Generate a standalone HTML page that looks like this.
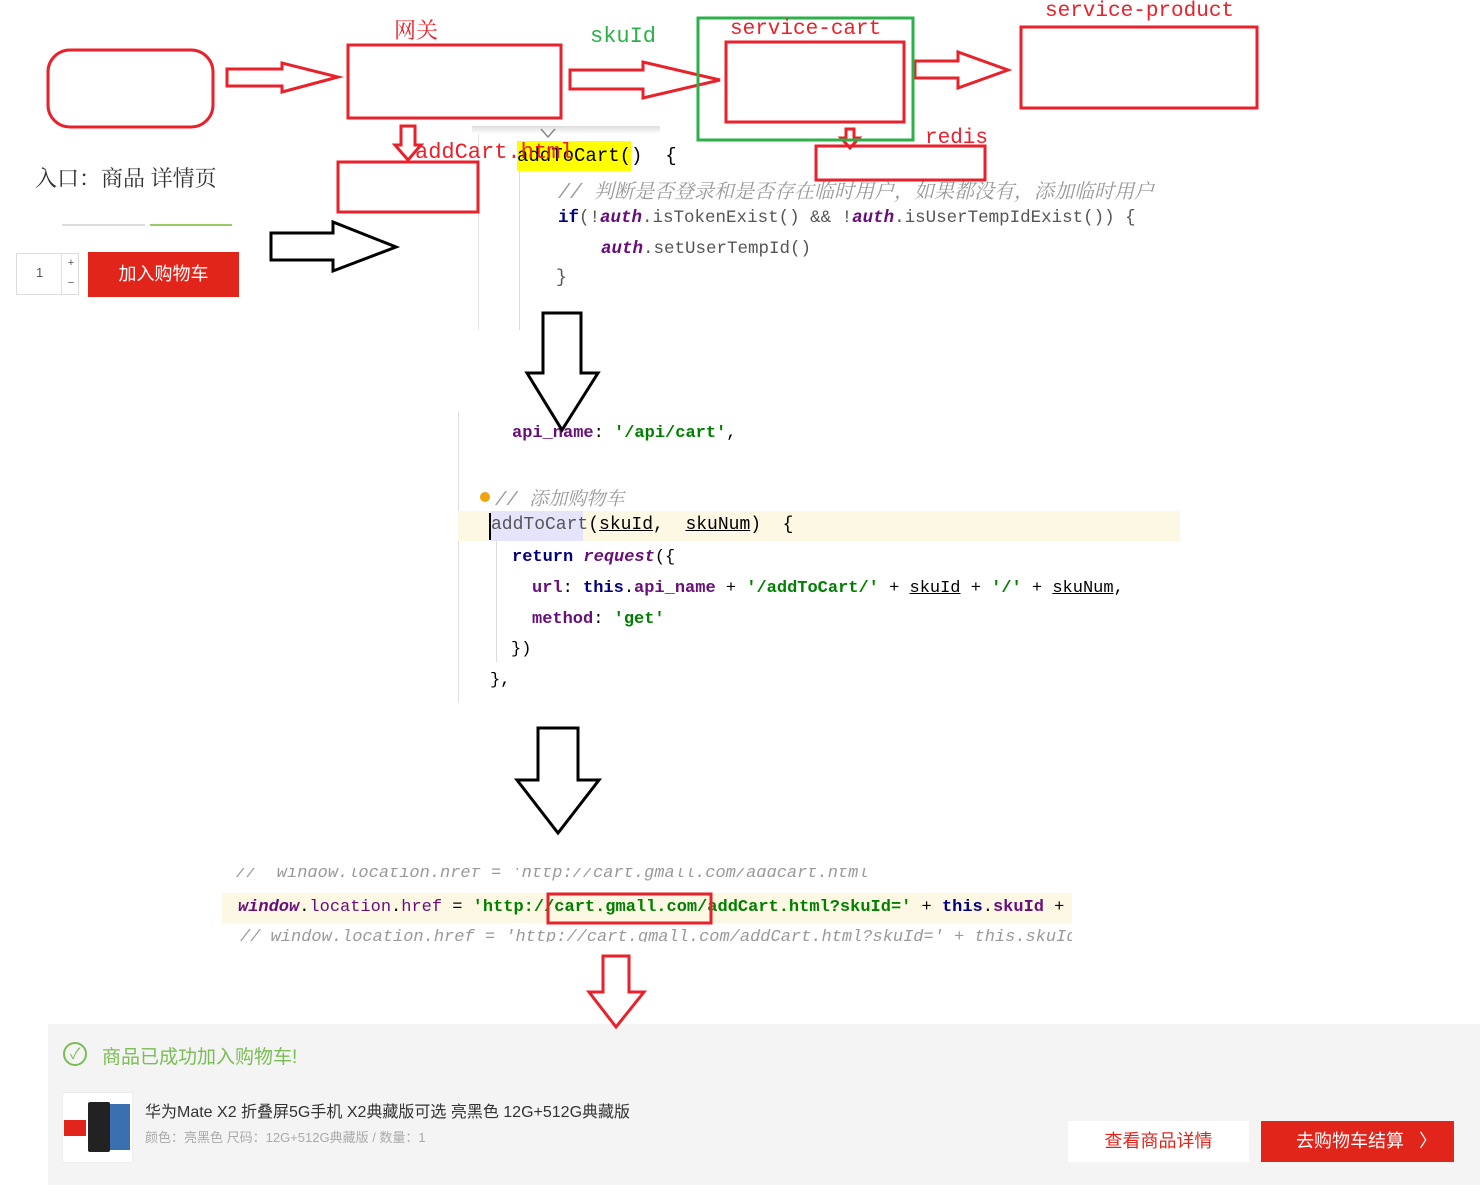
<!DOCTYPE html>
<html><head><meta charset="utf-8"><style>
body{margin:0;width:1480px;height:1193px;background:#fff;position:relative;overflow:hidden;font-family:"Liberation Sans","Noto Sans CJK SC",sans-serif}
.a{position:absolute;white-space:nowrap}
.m{font-family:"Liberation Mono","Noto Serif CJK SC",monospace;font-size:18px}
.c{font-family:"Liberation Mono","Noto Serif CJK SC",monospace;font-size:17px}
.kw{color:#000080;font-weight:bold}.pu{color:#660e7a;font-style:italic;font-weight:bold}.st{color:#008000;font-weight:bold}.cm{color:#999;font-style:italic}.pr{color:#660e7a;font-weight:bold}
u{text-decoration:underline}
</style></head><body>
<div class="a" style="left:472px;top:126px;width:188px;height:8px;background:linear-gradient(#ddd,#fff)"></div>
<div class="a" style="left:478px;top:134px;width:1px;height:196px;background:#e4e4e4"></div>
<div class="a" style="left:519px;top:170px;width:1px;height:160px;background:#ddd"></div>
<div class="a" style="left:517px;top:141px;width:114px;height:30px;background:#ffff00"></div>
<div class="a m" style="left:517px;top:145px;font-size:19px">addToCart()&nbsp;&nbsp;{</div>
<div class="a m cm" style="left:558px;top:175px;font-size:20px">// 判断是否登录和是否存在临时用户，如果都没有，添加临时用户</div>
<div class="a m" style="left:558px;top:208px;color:#555;font-size:17.5px"><span class="kw">if</span>(!<span class="pu">auth</span>.isTokenExist()&nbsp;&amp;&amp;&nbsp;!<span class="pu">auth</span>.isUserTempIdExist())&nbsp;{</div>
<div class="a m" style="left:601px;top:239px;color:#555;font-size:17.5px"><span class="pu">auth</span>.setUserTempId()</div>
<div class="a m" style="left:556px;top:268px;color:#555">}</div>
<div class="a" style="left:35px;top:162px;font-size:22px;color:#333;font-family:'Noto Serif CJK SC',serif">入口：商品 详情页</div>
<div class="a" style="left:62px;top:224px;width:83px;height:2px;background:#ddd"></div>
<div class="a" style="left:150px;top:224px;width:82px;height:2px;background:#9c6"></div>
<div class="a" style="left:16px;top:253px;width:63px;height:42px;border:1px solid #ddd;box-sizing:border-box"></div>
<div class="a" style="left:36px;top:265px;font-size:13px;color:#555">1</div>
<div class="a" style="left:61px;top:253px;width:18px;height:42px;border-left:1px solid #ddd;font-size:11px;color:#555;text-align:center;line-height:20px">+<br>−</div>
<div class="a" style="left:88px;top:252px;width:151px;height:45px;background:#e1251b;color:#fff;font-size:18px;text-align:center;line-height:45px">加入购物车</div>
<div class="a" style="left:458px;top:412px;width:1px;height:290px;background:#ddd"></div>
<div class="a" style="left:458px;top:511px;width:722px;height:30px;background:#fdf8e4"></div>
<div class="a" style="left:490px;top:511px;width:93px;height:30px;background:#e6e4fa"></div>
<div class="a" style="left:489px;top:513px;width:2px;height:27px;background:#000"></div>
<div class="a" style="left:496px;top:540px;width:1px;height:122px;background:#ddd"></div>
<div class="a c" style="left:512px;top:424px"><span class="pr">api_name</span>:&nbsp;<span class="st">'/api/cart'</span>,</div>
<div class="a" style="left:480px;top:492px;width:10px;height:10px;border-radius:50%;background:#f0a30a"></div>
<div class="a m cm" style="left:495px;top:484px;font-size:19px">// 添加购物车</div>
<div class="a m" style="left:491px;top:515px;color:#555">addToCart<span style="color:#000">(<u>skuId</u>,&nbsp;&nbsp;<u>skuNum</u>)&nbsp;&nbsp;{</span></div>
<div class="a c" style="left:512px;top:548px"><span class="kw">return</span>&nbsp;<span class="pu">request</span>({</div>
<div class="a c" style="left:532px;top:579px"><span class="pr">url</span>:&nbsp;<span class="kw">this</span>.<span class="pr">api_name</span>&nbsp;+&nbsp;<span class="st">'/addToCart/'</span>&nbsp;+&nbsp;<u>skuId</u>&nbsp;+&nbsp;<span class="st">'/'</span>&nbsp;+&nbsp;<u>skuNum</u>,</div>
<div class="a c" style="left:532px;top:610px"><span class="pr">method</span>:&nbsp;<span class="st">'get'</span></div>
<div class="a c" style="left:511px;top:640px">})</div>
<div class="a c" style="left:490px;top:671px">},</div>
<div class="a" style="left:222px;top:868px;width:850px;height:74px;overflow:hidden">
<div class="a c cm" style="left:14px;top:-4px">//&nbsp;&nbsp;window.location.href = 'http://cart.gmall.com/addcart.html</div>
<div class="a" style="left:0;top:25px;width:850px;height:30px;background:#fdf8e4"></div>
<div class="a c" style="left:16px;top:30px"><span class="pu">window</span>.<span class="pr" style="font-weight:normal">location</span>.<span class="pr" style="font-weight:normal">href</span>&nbsp;=&nbsp;<span class="st">'http://cart.gmall.com/addCart.html?skuId='</span>&nbsp;+&nbsp;<span class="kw">this</span>.<span class="pr">skuId</span>&nbsp;+</div>
<div class="a c cm" style="left:18px;top:60px">// window.location.href = 'http://cart.gmall.com/addCart.html?skuId=' + this.skuId</div>
</div>
<div class="a" style="left:48px;top:1024px;width:1432px;height:161px;background:#f4f4f4"></div>
<div class="a" style="left:63px;top:1042px;width:24px;height:24px;border:2px solid #7abd54;border-radius:50%;box-sizing:border-box;color:#7abd54;font-size:15px;text-align:center;line-height:21px">✓</div>
<div class="a" style="left:102px;top:1042px;font-size:19px;color:#7abd54">商品已成功加入购物车!</div>
<div class="a" style="left:62px;top:1092px;width:71px;height:71px;background:#fff;border:1px solid #eee;box-sizing:border-box"></div>
<div class="a" style="left:88px;top:1102px;width:22px;height:50px;background:#222;border-radius:2px"></div>
<div class="a" style="left:110px;top:1104px;width:20px;height:46px;background:#3a6fb0"></div>
<div class="a" style="left:64px;top:1120px;width:22px;height:16px;background:#e1251b"></div>
<div class="a" style="left:145px;top:1098px;font-size:16px;color:#333">华为Mate X2 折叠屏5G手机 X2典藏版可选 亮黑色 12G+512G典藏版</div>
<div class="a" style="left:145px;top:1127px;font-size:13px;color:#aaa">颜色：亮黑色 尺码：12G+512G典藏版 / 数量：1</div>
<div class="a" style="left:1068px;top:1121px;width:181px;height:41px;background:#fff;color:#e1251b;font-size:18px;text-align:center;line-height:41px">查看商品详情</div>
<div class="a" style="left:1261px;top:1121px;width:193px;height:41px;background:#e1251b;color:#fff;font-size:18px;line-height:41px;text-indent:35px">去购物车结算&nbsp;&nbsp;&nbsp;〉</div>
<svg class="a" style="left:0;top:0" width="1480" height="1193" fill="none">
<g stroke="#e8212b" stroke-width="3">
<rect x="48" y="50" width="165" height="77" rx="22"/>
<polygon points="227,69 282,69 282,63 338,77 282,92 282,86 227,86"/>
<rect x="348" y="45" width="213" height="73"/>
<polygon points="570,70 643,70 643,62 720,80 643,98 643,89 570,89"/>
<rect x="726" y="42" width="178" height="80"/>
<polygon points="915,61 958,61 958,52 1008,70 958,88 958,78 915,78"/>
<rect x="1021" y="27" width="236" height="81"/>
<polygon points="401,126 415,126 415,145 421,145 408,160 395,145 401,145"/>
<rect x="338" y="162" width="140" height="50"/>
<polygon points="846,129 854,129 854,138 859,138 850,148 841,138 846,138"/>
<rect x="816" y="146" width="169" height="34"/>
<rect x="548" y="894" width="163" height="29"/>
<polygon points="603,956 629,956 629,992 644,992 616,1027 589,992 603,992"/>
</g>
<rect x="698" y="18" width="215" height="122" stroke="#2bb04a" stroke-width="3"/>
<g stroke="#000" stroke-width="3" fill="none">
<polygon points="271,233 333,233 333,222 396,247 333,271 333,260 271,260"/>
<polygon points="543,313 581,313 581,373 598,373 562,430 527,373 543,373"/>
<polygon points="538,728 578,728 578,780 599,780 558,833 517,780 538,780"/>
</g>
<path d="M541,129 L548,137 L555,129" stroke="#888" stroke-width="1.5"/>
</svg>
<div class="a" style="left:394px;top:14px;font-size:22px;color:#e8212b;font-family:'Noto Serif CJK SC',serif">网关</div>
<div class="a m" style="left:590px;top:24px;font-size:22px;color:#2bb04a">skuId</div>
<div class="a m" style="left:730px;top:18px;font-size:21px;color:#e8212b">service-cart</div>
<div class="a m" style="left:1045px;top:0px;font-size:21px;color:#e8212b">service-product</div>
<div class="a m" style="left:925px;top:127px;font-size:21px;color:#e8212b">redis</div>
<div class="a m" style="left:415px;top:140px;font-size:22px;color:#e8212b">addCart.html</div>
</body></html>
